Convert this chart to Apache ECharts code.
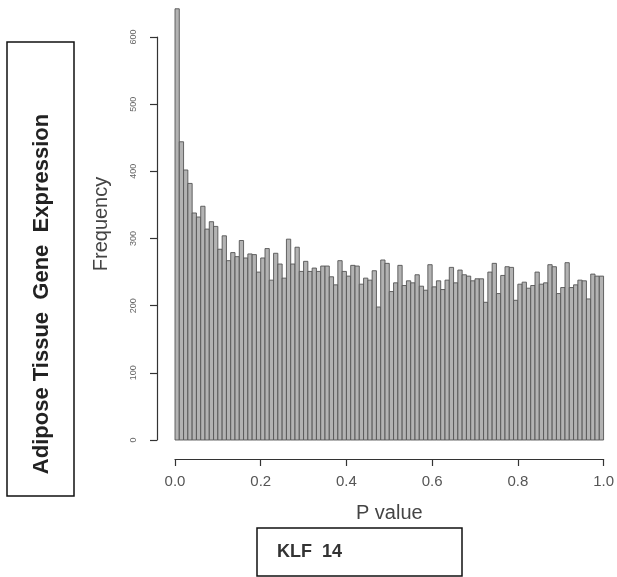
<!DOCTYPE html>
<html>
<head>
<meta charset="utf-8">
<script src="https://cdn.jsdelivr.net/npm/echarts@6/dist/echarts.min.js"></script>
<style>
html,body{margin:0;padding:0;background:#fff;}
#chart{width:617px;height:577px;}
</style>
</head>
<body>
<div id="chart"></div>
<script>
// Histogram of P values: 100 bins of width 0.01 from 0 to 1
const binWidth = 0.01;
const frequencies = [
  642, 444, 402, 382, 338, 332, 348, 314, 325, 318,
  284, 304, 267, 279, 273, 297, 271, 277, 276, 250,
  271, 285, 238, 278, 262, 241, 299, 262, 287, 251,
  266, 251, 256, 251, 259, 259, 243, 231, 267, 251,
  244, 260, 259, 232, 241, 238, 252, 198, 268, 263,
  221, 234, 260, 230, 237, 234, 246, 229, 223, 261,
  228, 237, 224, 238, 257, 234, 253, 246, 244, 237,
  240, 240, 205, 250, 263, 218, 245, 258, 257, 208,
  232, 235, 226, 230, 250, 232, 234, 261, 258, 218,
  227, 264, 227, 231, 238, 237, 210, 247, 244, 244
];
const xTickLabels = ['0.0', '0.2', '0.4', '0.6', '0.8', '1.0'];
const yTickValues = [0, 100, 200, 300, 400, 500, 600];
const xTitle = 'P value';
const yTitle = 'Frequency';
const sideLabel = 'Adipose Tissue  Gene  Expression';
const geneLabel = 'KLF  14';

const histData = frequencies.map((f, i) => [i * binWidth, (i + 1) * binWidth, f]);

const chart = echarts.init(document.getElementById('chart'), null, {renderer: 'canvas'});
chart.setOption({
  backgroundColor: '#ffffff',
  animation: false,
  grid: {left: 175, right: 12, top: 37, bottom: 137, containLabel: false},
  xAxis: {
    type: 'value', min: 0, max: 1, interval: 0.2,
    offset: 19,
    axisLine: {show: true, onZero: false, lineStyle: {color: '#333', width: 1.2}},
    axisTick: {show: true, length: 7, lineStyle: {color: '#333', width: 1.2}},
    axisLabel: {
      color: '#555', fontSize: 15, fontFamily: 'Liberation Sans, Arial, sans-serif', margin: 15,
      formatter: (v) => { const k = Math.round(v / 0.2); return xTickLabels[k] !== undefined ? xTickLabels[k] : ''; }
    },
    splitLine: {show: false},
    name: xTitle, nameLocation: 'middle', nameGap: 44,
    nameTextStyle: {color: '#444', fontSize: 20, fontFamily: 'Liberation Sans, Arial, sans-serif'}
  },
  yAxis: {
    type: 'value', min: yTickValues[0], max: yTickValues[yTickValues.length - 1], interval: 100,
    offset: 18,
    axisLine: {show: true, onZero: false, lineStyle: {color: '#333', width: 1.2}},
    axisTick: {show: true, length: 7, lineStyle: {color: '#333', width: 1.2}},
    axisLabel: {color: '#666', fontSize: 9, fontFamily: 'Liberation Sans, Arial, sans-serif', rotate: 90, margin: 19},
    splitLine: {show: false}
  },
  graphic: [
    {type: 'text', x: 101, y: 224, rotation: Math.PI / 2, z: 10,
     style: {text: yTitle, fill: '#444', font: '20px "Liberation Sans", Arial, sans-serif', align: 'center', verticalAlign: 'middle'}},
    {type: 'rect', shape: {x: 7, y: 42, width: 67, height: 454},
     style: {fill: 'none', stroke: '#111', lineWidth: 1.5}},
    {type: 'text', x: 42, y: 294, rotation: Math.PI / 2,
     style: {text: sideLabel, fill: '#222', font: 'bold 22px "Liberation Sans", Arial, sans-serif', align: 'center', verticalAlign: 'middle'}},
    {type: 'rect', shape: {x: 257, y: 528, width: 205, height: 48},
     style: {fill: 'none', stroke: '#111', lineWidth: 1.5}},
    {type: 'text', x: 277, y: 552,
     style: {text: geneLabel, fill: '#333', font: 'bold 18px "Liberation Sans", Arial, sans-serif', align: 'left', verticalAlign: 'middle'}}
  ],
  series: [{
    type: 'custom',
    clip: false,
    data: histData,
    renderItem: function (params, api) {
      const p0 = api.coord([api.value(0), 0]);
      const p1 = api.coord([api.value(1), api.value(2)]);
      return {
        type: 'rect',
        shape: {x: p0[0], y: p1[1], width: p1[0] - p0[0], height: p0[1] - p1[1]},
        style: {fill: '#b3b3b3', stroke: '#555', lineWidth: 0.9}
      };
    }
  }]
});
</script>
</body>
</html>
